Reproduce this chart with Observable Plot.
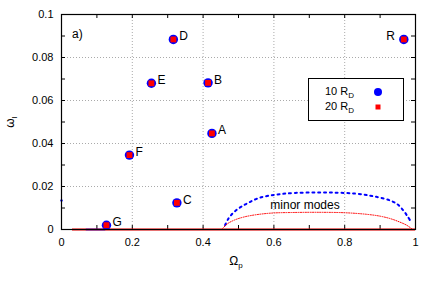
<!DOCTYPE html>
<html><head><meta charset="utf-8">
<script src="https://cdn.jsdelivr.net/npm/d3@7"></script>
<script src="https://cdn.jsdelivr.net/npm/@observablehq/plot@0.6"></script>
<style>body{margin:0;background:#fff;font-family:"Liberation Sans",Arial,sans-serif}</style>
</head><body><div id="chart"></div>
<script>
// Labelled modes
const modeLabels = ["A","B","C","D","E","F","G","R"];
const modeOmegaP = [0.425,0.414,0.326,0.316,0.254,0.192,0.127,0.967];
const modeOmegaI = [0.0447,0.0682,0.0124,0.0884,0.0680,0.0346,0.0020,0.0884];
const labelSide  = ["r","r","r","r","r","r","r","l"];
// Minor modes (10 R_D, blue dotted)
const minor10X = [0.462,0.472,0.490,0.510,0.530,0.555,0.585,0.620,0.660,0.720,0.780,0.830,0.870,0.900,0.930,0.950,0.966,0.978,0.985];
const minor10Y = [0.0020,0.0052,0.0085,0.0108,0.0126,0.0145,0.0157,0.0165,0.0170,0.0172,0.0171,0.0167,0.0158,0.0148,0.0134,0.0116,0.0088,0.0060,0.0042];
// Minor modes (20 R_D, red dotted)
const minor20X = [0.455,0.470,0.490,0.520,0.560,0.600,0.650,0.720,0.800,0.860,0.900,0.930,0.955,0.975,0.990];
const minor20Y = [0.0005,0.0028,0.0045,0.0060,0.0071,0.0077,0.0079,0.0080,0.0078,0.0071,0.0062,0.0050,0.0035,0.0020,0.0003];
// Baseline (near-zero growth) branches
const base20X = [0.031,1.0];
const base10X = [0.07,0.125];
const strayX = [0.0], strayY = [0.0135];
const xTicks = [0,0.2,0.4,0.6,0.8,1];
const xMinor = d3.range(0,1.0001,0.1);
const yTicks = [0,0.02,0.04,0.06,0.08,0.1];
const yMinor = d3.range(0,0.1001,0.01);

const modes = modeLabels.map((l,i)=>({l,x:modeOmegaP[i],y:modeOmegaI[i],s:labelSide[i]}));
const m10 = minor10X.map((x,i)=>({x,y:minor10Y[i]}));
const m20 = minor20X.map((x,i)=>({x,y:minor20Y[i]}));

const W=436,H=282,ML=61,MR=21,MT=14,MB=53;
const FW=W-ML-MR, FH=H-MT-MB;
const font='"Liberation Sans",Arial,sans-serif';

const plot = Plot.plot({
  width:W,height:H,marginLeft:ML,marginRight:MR,marginTop:MT,marginBottom:MB,
  style:{fontFamily:font,fontSize:"11px",background:"#fff",color:"#000"},
  x:{domain:[0,1]},
  y:{domain:[0,0.1]},
  marks:[
    Plot.ruleX(xTicks.slice(1,-1),{stroke:"#aaa",strokeDasharray:"1,2",strokeWidth:1}),
    Plot.ruleY(yTicks.slice(1,-1),{stroke:"#aaa",strokeDasharray:"1,2",strokeWidth:1}),
    Plot.ruleX(xMinor,{insetBottom:FH-4,stroke:"#000"}),
    Plot.ruleX(xMinor,{insetTop:FH-4,stroke:"#000"}),
    Plot.ruleY(yMinor,{insetRight:FW-4,stroke:"#000"}),
    Plot.ruleY(yMinor,{insetLeft:FW-4,stroke:"#000"}),
    Plot.axisX(xTicks,{tickSize:0,tickPadding:9,tickFormat:d=>String(d),fontSize:11,label:null}),
    Plot.axisY(yTicks,{tickSize:0,tickPadding:8,tickFormat:d=>String(d),fontSize:11,label:null}),
    Plot.line(m10,{x:"x",y:"y",stroke:"#0000ff",strokeWidth:2,strokeDasharray:"2,3.8",curve:"catmull-rom"}),
    Plot.line(m20,{x:"x",y:"y",stroke:"#ff0000",strokeWidth:1,strokeDasharray:"1,1.4",curve:"catmull-rom"}),
    Plot.ruleY([0],{x1:base20X[0],x2:base20X[1],stroke:"#ff0000",strokeWidth:2.2}),
    Plot.ruleY([0],{x1:base10X[0],x2:base10X[1],stroke:"#0000ff",strokeWidth:2.2,strokeOpacity:0.5}),
    Plot.dot(strayX.map((x,i)=>({x,y:strayY[i]})),{x:"x",y:"y",r:1.2,fill:"#0000ff"}),
    Plot.dot(modes,{x:"x",y:"y",r:4.7,fill:"#0000ff"}),
    Plot.dot(modes,{x:"x",y:"y",r:3.3,symbol:"square",fill:"#ff0000"}),
    Plot.text(modes.filter(d=>d.s==="r"),{x:"x",y:"y",text:"l",textAnchor:"start",dx:6,dy:-3,fontSize:12}),
    Plot.text(modes.filter(d=>d.s==="l"),{x:"x",y:"y",text:"l",textAnchor:"end",dx:-9,dy:-3,fontSize:12}),
    Plot.text(["minor modes"],{x:0.59,y:0.0115,textAnchor:"start",fontSize:12}),
    Plot.text(["a)"],{x:0.03,y:0.091,textAnchor:"start",fontSize:12}),
    Plot.frame({stroke:"#000",strokeWidth:1.2})
  ]
});
document.getElementById("chart").appendChild(plot);

const svg = d3.select(plot);
// axis titles
const yl = svg.append("text").attr("transform","translate(14,122) rotate(-90)")
  .attr("text-anchor","middle").attr("font-size",12).attr("font-family",font);
yl.append("tspan").text("ω");
yl.append("tspan").attr("font-size",8).attr("dy",3).text("I");
const xl = svg.append("text").attr("x",236).attr("y",265)
  .attr("text-anchor","middle").attr("font-size",12).attr("font-family",font);
xl.append("tspan").text("Ω");
xl.append("tspan").attr("font-size",8).attr("dy",3).text("p");
// legend
const lg = svg.append("g").attr("font-family",font).attr("font-size",11).attr("text-anchor","start");
lg.append("rect").attr("x",308.5).attr("y",78.5).attr("width",95).attr("height",42)
  .attr("fill","#fff").attr("stroke","#000").attr("stroke-width",1);
[["10 R","D",92],["20 R","D",107]].forEach(([a,b,y])=>{
  const t = lg.append("text").attr("x",325).attr("y",y+3).attr("text-anchor","start");
  t.append("tspan").text(a);
  t.append("tspan").attr("font-size",8).attr("dy",3).text(b);
});
lg.append("circle").attr("cx",378).attr("cy",92).attr("r",4).attr("fill","#0000ff");
lg.append("rect").attr("x",375.5).attr("y",104.5).attr("width",5).attr("height",5).attr("fill","#ff0000");
</script></body></html>
